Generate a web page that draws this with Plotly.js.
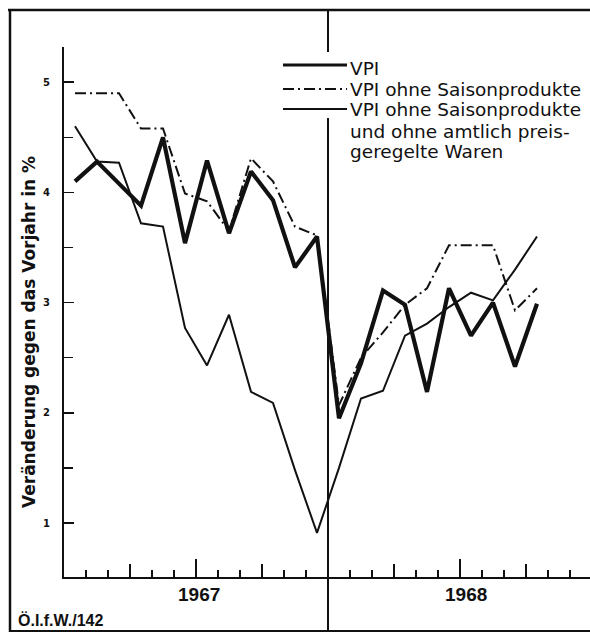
<!DOCTYPE html>
<html>
<head>
<meta charset="utf-8">
<script src="https://cdn.plot.ly/plotly-3.0.1.min.js"></script>
<style>html,body{margin:0;padding:0;background:#fff;}#chart{width:590px;height:632px;}</style>
</head>
<body>
<div id="chart"></div>
<script>
// Months: Jan 1967 ... Oct 1968 (values plotted at month centres)
var monthLabels = ['Jan 67','Feb 67','Mär 67','Apr 67','Mai 67','Jun 67','Jul 67','Aug 67','Sep 67','Okt 67','Nov 67','Dez 67',
                   'Jan 68','Feb 68','Mär 68','Apr 68','Mai 68','Jun 68','Jul 68','Aug 68','Sep 68','Okt 68'];
var vpi =            [4.10, 4.28, 4.08, 3.88, 4.50, 3.54, 4.29, 3.63, 4.19, 3.93, 3.32, 3.60,
                      1.95, 2.45, 3.11, 2.98, 2.19, 3.13, 2.70, 3.00, 2.42, 2.99];
var vpiOhneSaison =  [4.90, 4.90, 4.90, 4.58, 4.58, 3.99, 3.92, 3.65, 4.31, 4.10, 3.69, 3.61,
                      2.07, 2.50, 2.73, 2.98, 3.13, 3.52, 3.52, 3.52, 2.93, 3.13];
var vpiOhneSaisonPreis = [4.60, 4.28, 4.27, 3.72, 3.69, 2.77, 2.43, 2.89, 2.19, 2.09, 1.48, 0.91,
                      1.50, 2.13, 2.20, 2.70, 2.81, 2.96, 3.09, 3.02, 3.30, 3.60];
var seriesNames = ['VPI', 'VPI ohne Saisonprodukte', 'VPI ohne Saisonprodukte<br>und ohne amtlich preis-<br>geregelte Waren'];
var years = ['1967', '1968'];
var yTickVals = [1, 2, 3, 4, 5];
var yTickText = ['1', '2', '3', '4', '5'];
var yTitle = 'Veränderung gegen das Vorjahr in %';
var footer = 'Ö.I.f.W./142';

var ink = '#111';
var xs = monthLabels.map(function(_, i){ return i + 0.5; });
var styles = [
  {width: 4.2, dash: 'solid'},
  {width: 2, dash: '11px,4px,2px,4px'},
  {width: 2, dash: 'solid'}
];
var series = [vpi, vpiOhneSaison, vpiOhneSaisonPreis];
var traces = series.map(function(s, i){
  return {x: xs, y: s, type: 'scatter', mode: 'lines', name: seriesNames[i],
          line: {color: ink, width: styles[i].width, dash: styles[i].dash}, hoverinfo: 'skip'};
});

// pixel helpers for the plot frame (plot area: x 64..590, y 47..577)
function px(xp){ return (xp - 64) / 526; }
function py(yp){ return (577 - yp) / 530; }

var shapes = [
  {type:'line', xref:'paper', yref:'paper', x0:px(8), x1:1.01, y0:py(10), y1:py(10), line:{color:ink, width:2.5}},
  {type:'line', xref:'paper', yref:'paper', x0:px(10), x1:px(10), y0:py(10), y1:py(634), line:{color:ink, width:2.5}},
  {type:'line', xref:'paper', yref:'paper', x0:px(10), x1:1.01, y0:py(631), y1:py(631), line:{color:ink, width:2}},
  {type:'line', xref:'x', yref:'paper', x0:12, x1:12, y0:py(10), y1:py(52), line:{color:ink, width:2}},
  {type:'line', xref:'x', yref:'paper', x0:12, x1:12, y0:py(118), y1:py(634), line:{color:ink, width:2}}
];
var sampleY = [65, 89, 109];
styles.forEach(function(st, i){
  shapes.push({type:'line', xref:'paper', yref:'paper', x0:px(283), x1:px(347), y0:py(sampleY[i]), y1:py(sampleY[i]),
               line:{color:ink, width:Math.min(st.width, 3.2), dash:st.dash}});
});

var annotations = [];
var legendLines = [];
seriesNames.forEach(function(n){ n.split('<br>').forEach(function(l){ legendLines.push(l); }); });
legendLines.forEach(function(l, i){
  annotations.push({text:l, xref:'paper', yref:'paper', x:px(348), y:py(68 + i*21), xanchor:'left', yanchor:'middle',
                    showarrow:false, font:{family:'DejaVu Sans', size:18.5, color:ink}});
});
years.forEach(function(yr, i){
  annotations.push({text:yr, xref:'x', yref:'paper', x:i*12 + 6, xshift: 3 + i*3, y:py(594), xanchor:'center', yanchor:'middle',
                    showarrow:false, font:{family:'Liberation Sans', size:19, color:ink, weight:'bold'}});
});
annotations.push({text:yTitle, xref:'paper', yref:'paper', x:px(29), y:py(332), textangle:-90, xanchor:'center', yanchor:'middle',
                  showarrow:false, font:{family:'DejaVu Sans', size:17, color:ink, weight:'bold'}});
annotations.push({text:footer, xref:'paper', yref:'paper', x:px(16), y:py(620), xanchor:'left', yanchor:'middle',
                  showarrow:false, font:{family:'Liberation Sans', size:16, color:ink, weight:'bold'}});

var xRange = [0, 526/22];
var layout = {
  width: 590, height: 632,
  margin: {l:64, r:0, t:47, b:55, pad:0},
  paper_bgcolor:'#fff', plot_bgcolor:'#fff',
  showlegend: false,
  xaxis: {range: xRange, showgrid:false, zeroline:false, showline:true, linecolor:ink, linewidth:2,
          tickmode:'array', tickvals:[3,6,9,15,18,21], ticks:'inside', ticklen:13, tickwidth:1.6, tickcolor:ink,
          showticklabels:false,
          minor:{dtick:1, tick0:0, ticks:'inside', ticklen:7, tickwidth:1.4, tickcolor:ink, showgrid:false}},
  xaxis2: {range: xRange, overlaying:'x', anchor:'y', side:'bottom', showgrid:false, zeroline:false, showline:false,
          tickmode:'array', tickvals:[6,18], ticks:'inside', ticklen:18, tickwidth:1.6, tickcolor:ink, showticklabels:false},
  yaxis: {range:[0.51, 5.32], showgrid:false, zeroline:false, showline:true, linecolor:ink, linewidth:2,
          tickmode:'array', tickvals:yTickVals, ticktext:yTickText, ticks:'inside', ticklen:10, tickwidth:1.6, tickcolor:ink,
          ticklabelstandoff: 10,
          tickfont:{family:'DejaVu Sans', size:10, color:ink, weight:'bold'},
          minor:{dtick:0.5, tick0:0, ticks:'inside', ticklen:9, tickwidth:1.4, tickcolor:ink, showgrid:false}},
  shapes: shapes,
  annotations: annotations
};
traces.push({x:[0], y:[0.51], xaxis:'x2', yaxis:'y', type:'scatter', mode:'markers', marker:{opacity:0}, hoverinfo:'skip', showlegend:false});
Plotly.newPlot('chart', traces, layout, {staticPlot:true, displayModeBar:false});
</script>
</body>
</html>
